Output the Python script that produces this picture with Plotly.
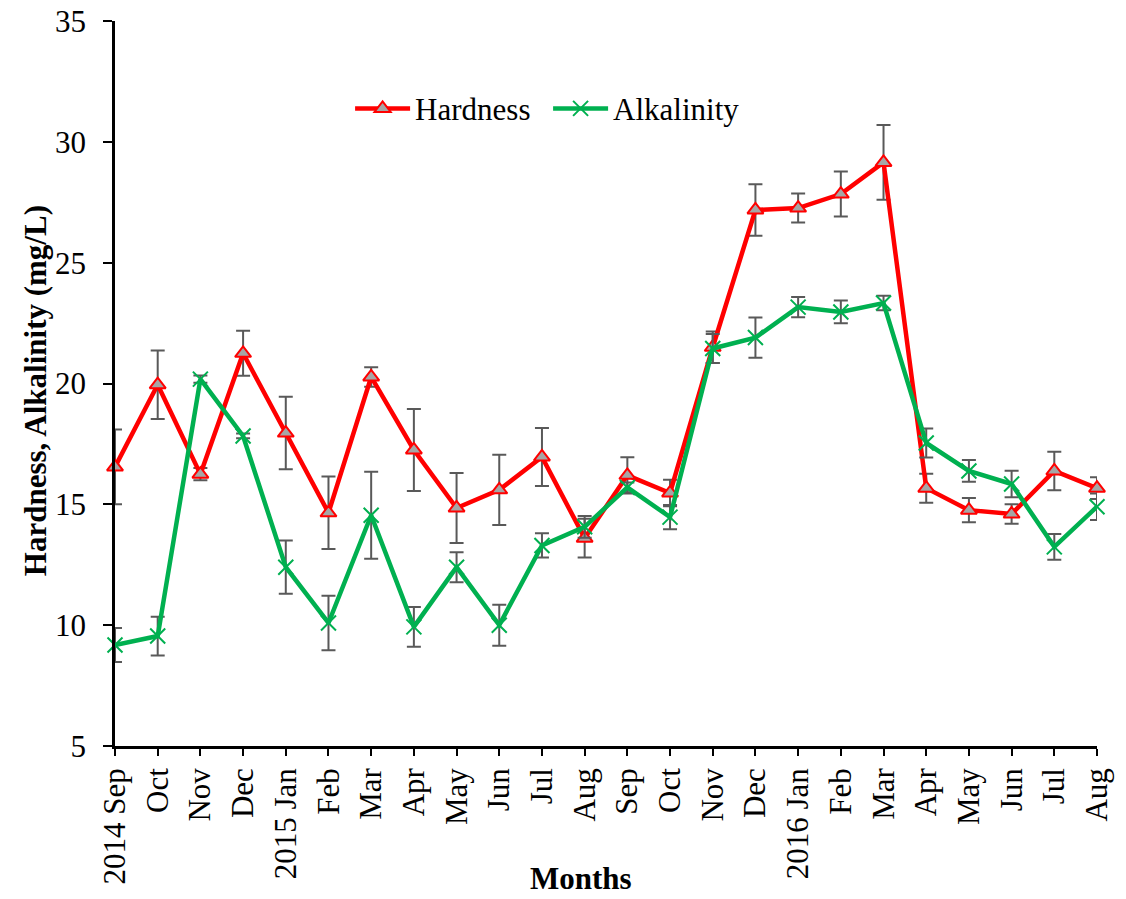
import plotly.graph_objects as go

months = ["2014 Sep", "Oct", "Nov", "Dec", "2015 Jan", "Feb", "Mar", "Apr", "May", "Jun",
          "Jul", "Aug", "Sep", "Oct", "Nov", "Dec", "2016 Jan", "Feb", "Mar", "Apr",
          "May", "Jun", "Jul", "Aug"]
hardness = [16.55, 19.95, 16.25, 21.25, 17.95, 14.65, 20.27, 17.25, 14.85, 15.6,
            16.96, 13.6, 16.2, 15.47, 21.5, 27.18, 27.26, 27.84, 29.15, 15.67,
            14.76, 14.6, 16.38, 15.67]
hardness_err = [1.55, 1.42, 0.25, 0.93, 1.5, 1.5, 0.4, 1.7, 1.45, 1.45,
                1.2, 0.8, 0.75, 0.55, 0.65, 1.07, 0.6, 0.93, 1.55, 0.6,
                0.5, 0.4, 0.8, 0.45]
alkalinity = [9.18, 9.55, 20.18, 17.83, 12.4, 10.09, 14.55, 9.93, 12.4, 10.0,
              13.3, 14.07, 15.7, 14.47, 21.45, 21.9, 23.16, 22.96, 23.33, 17.54,
              16.38, 15.84, 13.24, 14.9]
alkalinity_err = [0.7, 0.8, 0.15, 0.1, 1.1, 1.13, 1.8, 0.82, 0.62, 0.85,
                  0.5, 0.45, 0.2, 0.5, 0.6, 0.83, 0.42, 0.47, 0.3, 0.6,
                  0.45, 0.55, 0.53, 0.55]
y_ticks = [5, 10, 15, 20, 25, 30, 35]

FONT = "Liberation Serif, Times New Roman, serif"
xs = list(range(len(months)))

fig = go.Figure()
fig.add_trace(go.Scatter(
    x=xs, y=hardness, name="Hardness", mode="lines+markers",
    line=dict(color="#FF0000", width=4.5),
    marker=dict(symbol="triangle-up", size=14, color="#A6A6A6",
                line=dict(color="#FF0000", width=2)),
    error_y=dict(type="data", array=hardness_err, color="#595959",
                 thickness=2, width=7),
    cliponaxis=False,
))
fig.add_trace(go.Scatter(
    x=xs, y=alkalinity, name="Alkalinity", mode="lines+markers",
    line=dict(color="#00B050", width=4.5),
    marker=dict(symbol="x-thin", size=15, color="#00B050",
                line=dict(color="#00B050", width=2)),
    error_y=dict(type="data", array=alkalinity_err, color="#595959",
                 thickness=2, width=7),
    cliponaxis=False,
))

fig.update_layout(
    width=1118, height=891,
    margin=dict(l=107, r=29, t=13, b=153, autoexpand=False),
    paper_bgcolor="white", plot_bgcolor="white",
    font=dict(family=FONT, size=31, color="black"),
    showlegend=True,
    legend=dict(orientation="h", x=0.2394, y=0.879, xanchor="left", yanchor="middle",
                font=dict(family=FONT, size=31, color="black"),
                bgcolor="rgba(0,0,0,0)", itemwidth=55,
                entrywidth=128, entrywidthmode="pixels"),
    xaxis=dict(
        range=[0, 23], tickvals=xs, ticktext=months, tickangle=-90,
        showgrid=False, zeroline=False, automargin=False,
        showline=True, linecolor="black", linewidth=2.5,
        ticks="outside", ticklen=7, tickwidth=2, tickcolor="black",
        tickfont=dict(family=FONT, size=31, color="black"),
        ticklabeloverflow="allow",
    ),
    yaxis=dict(
        range=[5, 35], tickvals=y_ticks,
        showgrid=False, zeroline=False, automargin=False,
        showline=True, linecolor="black", linewidth=2.5,
        ticks="outside", ticklen=9, tickwidth=2, tickcolor="black",
        tickfont=dict(family=FONT, size=31, color="black"),
        ticklabelstandoff=11, ticklabeloverflow="allow",
    ),
    annotations=[
        dict(text="<b>Months</b>", x=0.475, y=-0.183, xref="paper", yref="paper",
             xanchor="center", yanchor="middle", showarrow=False,
             font=dict(family=FONT, size=31, color="black")),
        dict(text="<b>Hardness, Alkalinity (mg/L)</b>", x=-0.081, y=0.49,
             xref="paper", yref="paper", textangle=-90,
             xanchor="center", yanchor="middle", showarrow=False,
             font=dict(family=FONT, size=31, color="black")),
    ],
)

fig.write_html("out.html")
